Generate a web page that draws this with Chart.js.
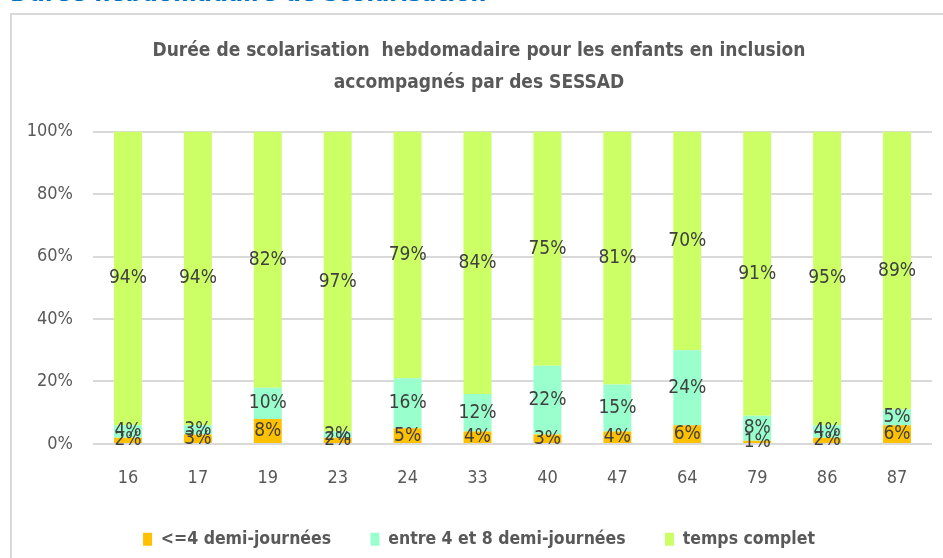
<!DOCTYPE html>
<html>
<head>
<meta charset="utf-8">
<script src="https://cdn.jsdelivr.net/npm/chart.js@4/dist/chart.umd.min.js"></script>
<style>
  body { margin: 0; width: 943px; height: 558px; overflow: hidden; background: #fff; position: relative; }
  #header { position: absolute; left: 10px; top: -19px; font: bold 25px "DejaVu Sans Condensed", sans-serif; line-height: 24px; color: #0070c0; white-space: nowrap; }
  #frame { position: absolute; left: 10px; top: 13px; width: 940px; height: 560px; border-left: 2px solid #d9d9d9; border-top: 2px solid #d9d9d9; }
  #wrap { position: absolute; left: 12px; top: 15px; width: 931px; height: 543px; }
</style>
</head>
<body>
<div id="header">Durée hebdomadaire de scolarisation</div>
<div id="frame"></div>
<div id="wrap"><canvas id="myChart"></canvas></div>
<script>
// departements
const departements = ["16", "17", "19", "23", "24", "33", "40", "47", "64", "79", "86", "87"];
// % par tranche
const moinsDe4 = [2, 3, 8, 2, 5, 4, 3, 4, 6, 1, 2, 6];
const entre4et8 = [4, 3, 10, 2, 16, 12, 22, 15, 24, 8, 4, 5];
const tempsComplet = [94, 94, 82, 97, 79, 84, 75, 81, 70, 91, 95, 89];
const yTicks = [0, 20, 40, 60, 80, 100];

const FONT = '"DejaVu Sans Condensed", sans-serif';

// 100% empile : on ramene chaque colonne a 100
const totals = departements.map((d, i) => moinsDe4[i] + entre4et8[i] + tempsComplet[i]);
function pct(arr) {
  return arr.map((v, i) => (v / totals[i]) * 100);
}
const rawValues = [moinsDe4, entre4et8, tempsComplet];

const labelPlugin = {
  id: "segmentLabels",
  afterDatasetsDraw(chart) {
    let ctx = chart.ctx;
    ctx.save();
    ctx.font = "19px " + FONT;
    ctx.fillStyle = "#404040";
    ctx.textAlign = "center";
    ctx.textBaseline = "middle";
    chart.data.datasets.forEach((ds, i) => {
      let meta = chart.getDatasetMeta(i);
      meta.data.forEach((bar, j) => {
        let y = (bar.y + bar.base) / 2;
        ctx.fillText(rawValues[i][j] + "%", bar.x, y);
      });
    });
    ctx.restore();
  },
};

let ctx = document.getElementById("myChart");
let myChart = new Chart(ctx, {
  type: "bar",
  data: {
    labels: departements,
    datasets: [
      // espaces en fin de libelle pour ecarter les items de legende
      { label: "<=4 demi-journées\u00a0\u00a0\u00a0", data: pct(moinsDe4), backgroundColor: "#ffc000" },
      { label: "entre 4 et 8 demi-journées\u00a0\u00a0\u00a0", data: pct(entre4et8), backgroundColor: "#99ffcc" },
      { label: "temps complet", data: pct(tempsComplet), backgroundColor: "#ccff66" },
    ],
  },
  plugins: [labelPlugin],
  options: {
    responsive: true,
    maintainAspectRatio: false,
    animation: false,
    layout: { padding: { left: 14, right: 11, top: 0, bottom: 0 } },
    datasets: { bar: { barPercentage: 0.4, categoryPercentage: 1 } },
    plugins: {
      tooltip: { enabled: false },
      title: {
        display: true,
        text: ["Durée de scolarisation  hebdomadaire pour les enfants en inclusion", "accompagnés par des SESSAD"],
        color: "#595959",
        font: { family: FONT, size: 19, weight: "bold", lineHeight: 1.7 },
        padding: { top: 20, bottom: 32 },
      },
      legend: {
        position: "bottom",
        labels: {
          color: "#595959",
          font: { family: FONT, size: 17.5, weight: "bold" },
          boxWidth: 9,
          boxHeight: 13,
          padding: 23,
        },
      },
    },
    scales: {
      x: {
        stacked: true,
        grid: { display: false },
        border: { display: false },
        ticks: { color: "#595959", font: { family: FONT, size: 18 }, padding: 16 },
        afterFit(scale) {
          scale.height += 2;
        },
      },
      y: {
        stacked: true,
        min: 0,
        max: 100,
        afterBuildTicks(scale) {
          scale.ticks = yTicks.map((v) => ({ value: v }));
        },
        afterFit(scale) {
          scale.width = 67;
        },
        grid: { color: "#d9d9d9", lineWidth: 2, drawTicks: false },
        border: { display: false },
        ticks: {
          color: "#595959",
          font: { family: FONT, size: 18 },
          padding: 20,
          callback: (v) => v + "%",
        },
      },
    },
  },
});
</script>
</body>
</html>
